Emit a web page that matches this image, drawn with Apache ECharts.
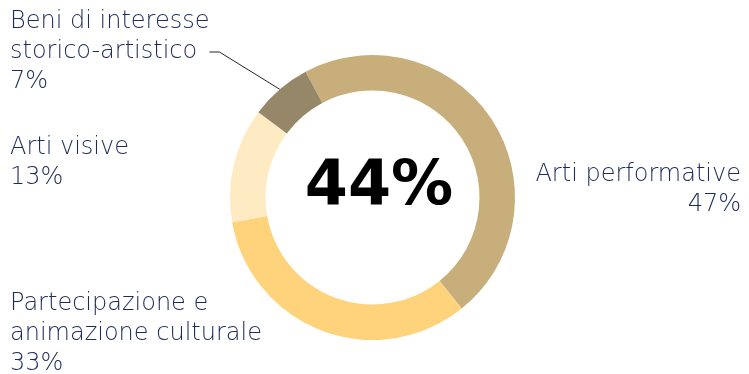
<!DOCTYPE html>
<html>
<head>
<meta charset="utf-8">
<script src="https://cdn.jsdelivr.net/npm/echarts@6/dist/echarts.min.js"></script>
<style>
  html, body { margin: 0; padding: 0; background: #fff; }
  #chart { width: 749px; height: 374px; }
</style>
</head>
<body>
<div id="chart"></div>
<script>
// dati della torta
const categories = [
  'Arti performative',
  'Partecipazione e\nanimazione culturale',
  'Arti visive',
  'Beni di interesse\nstorico-artistico'
]
const values = [47, 33, 13, 7]
const colors = ['#c8ae7a', '#fed37c', '#feebc4', '#968769']
const centerLabel = '44%'

// posizione delle etichette (x, y centro, allineamento)
const labelSpots = [
  { x: 741, y: 190, align: 'right' },
  { x: 10, y: 334, align: 'left' },
  { x: 10, y: 163, align: 'left' },
  { x: 10, y: 52, align: 'left' }
]

const chart = echarts.init(document.getElementById('chart'))

const option = {
  animation: false,
  graphic: [
    {
      type: 'text',
      x: 379,
      y: 188,
      style: {
        text: centerLabel,
        font: 'bold 62px "DejaVu Sans"',
        fill: '#000',
        textAlign: 'center',
        textVerticalAlign: 'middle'
      }
    }
  ],
  series: [
    {
      type: 'pie',
      center: [372.5, 197.5],
      radius: [107, 142.5],
      startAngle: 118,
      clockwise: true,
      avoidLabelOverlap: false,
      label: {
        show: true,
        formatter: '{b}\n{c}%',
        color: '#1c2a5c',
        fontFamily: 'DejaVu Sans',
        fontWeight: 200,
        fontSize: 24,
        lineHeight: 30
      },
      labelLine: { show: false },
      labelLayout: (params) => {
        const s = labelSpots[params.dataIndex]
        return { x: s.x, y: s.y, align: s.align, verticalAlign: 'middle' }
      },
      data: categories.map((name, i) => ({
        name,
        value: values[i],
        itemStyle: { color: colors[i] },
        labelLine: i === 3
          ? { show: true, length: 10, length2: 10, lineStyle: { color: '#222', width: 1 } }
          : { show: false }
      }))
    }
  ]
}

chart.setOption(option)
</script>
</body>
</html>
